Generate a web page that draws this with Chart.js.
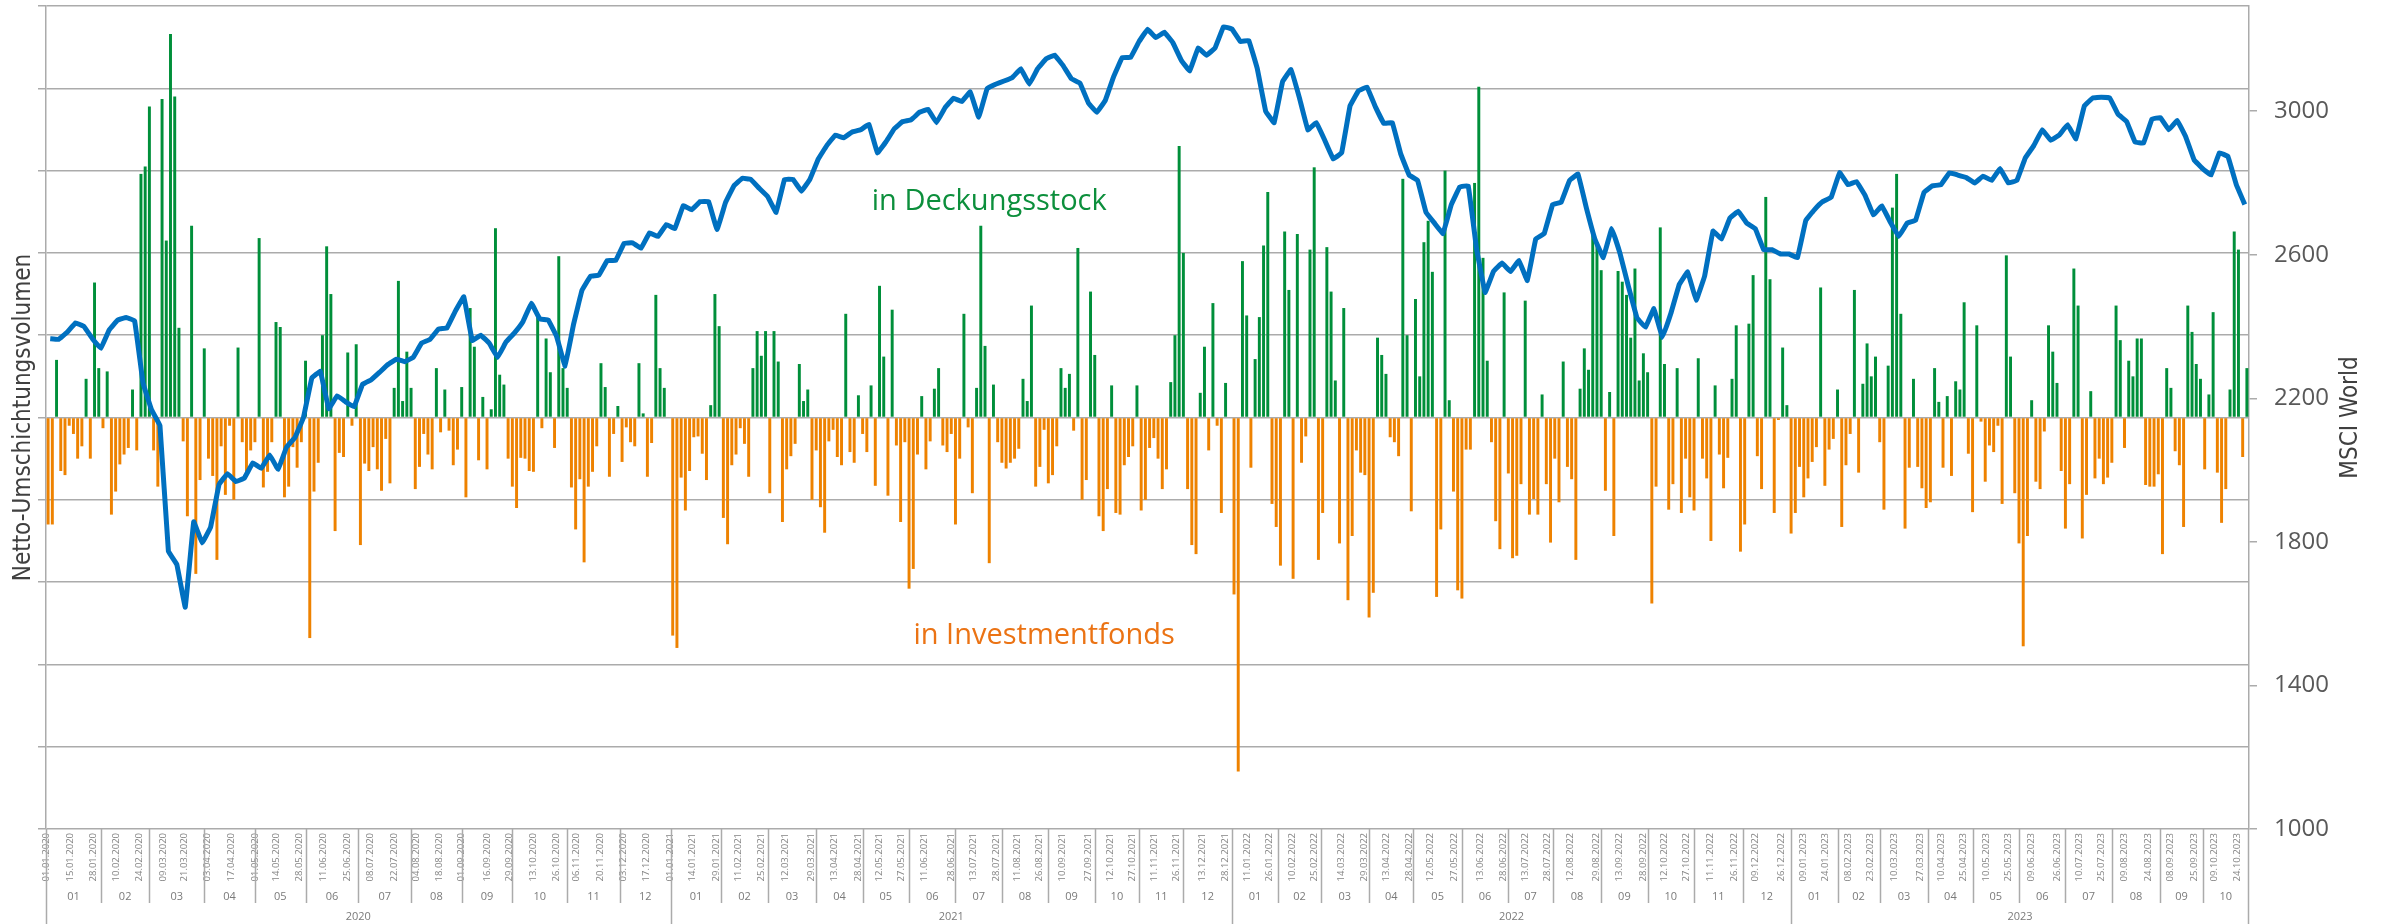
<!DOCTYPE html>
<html>
<head>
<meta charset="utf-8">
<title>Netto-Umschichtungsvolumen / MSCI World</title>
<script src="https://cdn.jsdelivr.net/npm/chart.js@4.4.1/dist/chart.umd.min.js"></script>
<style>
  html, body { margin: 0; padding: 0; background: #fff; }
  #wrap { width: 2384px; height: 924px; position: relative; }
</style>
</head>
<body>
<div id="wrap"><canvas id="myChart"></canvas></div>
<script>
// x axis: trading days per month, Jan 2020 .. Oct 2023
const years = ['2020', '2021', '2022', '2023'];
const monthLabels = ['01', '02', '03', '04', '05', '06', '07', '08', '09', '10', '11', '12'];
const monthDays = [
    26, 23, 26, 24, 24, 25, 25, 24, 24, 26, 25, 24,
    24, 22, 23, 22, 22, 22, 22, 22, 22, 21, 21, 23,
    22, 20, 23, 21, 23, 22, 21, 23, 22, 22, 23, 23,
    22, 20, 23, 21, 22, 22, 22, 23, 20, 22
];
const dateTicks = [
    '01.01.2020', '15.01.2020', '28.01.2020', '10.02.2020', '24.02.2020', '09.03.2020', '21.03.2020',
    '03.04.2020', '17.04.2020', '01.05.2020', '14.05.2020', '28.05.2020', '11.06.2020', '25.06.2020',
    '08.07.2020', '22.07.2020', '04.08.2020', '18.08.2020', '01.09.2020', '16.09.2020', '29.09.2020',
    '13.10.2020', '26.10.2020', '06.11.2020', '20.11.2020', '03.12.2020', '17.12.2020',
    '01.01.2021', '14.01.2021', '29.01.2021', '11.02.2021', '25.02.2021', '12.03.2021', '29.03.2021',
    '13.04.2021', '28.04.2021', '12.05.2021', '27.05.2021', '11.06.2021', '28.06.2021', '13.07.2021',
    '28.07.2021', '11.08.2021', '26.08.2021', '10.09.2021', '27.09.2021', '12.10.2021', '27.10.2021',
    '11.11.2021', '26.11.2021', '13.12.2021', '28.12.2021',
    '11.01.2022', '26.01.2022', '10.02.2022', '25.02.2022', '14.03.2022', '29.03.2022', '13.04.2022',
    '28.04.2022', '12.05.2022', '27.05.2022', '13.06.2022', '28.06.2022', '13.07.2022', '28.07.2022',
    '12.08.2022', '29.08.2022', '13.09.2022', '28.09.2022', '12.10.2022', '27.10.2022', '11.11.2022',
    '26.11.2022', '09.12.2022', '26.12.2022',
    '09.01.2023', '24.01.2023', '08.02.2023', '23.02.2023', '10.03.2023', '27.03.2023', '10.04.2023',
    '25.04.2023', '10.05.2023', '25.05.2023', '09.06.2023', '26.06.2023', '10.07.2023', '25.07.2023',
    '09.08.2023', '24.08.2023', '08.09.2023', '25.09.2023', '09.10.2023', '24.10.2023'
];
const msciTicks = [1000, 1400, 1800, 2200, 2600, 3000];

// net switching volume per two trading days (+ in Deckungsstock, - in Investmentfonds)
const netFlow = [
    -1.3, -1.3, 0.7, -0.65, -0.7, -0.1, -0.2, -0.5, -0.35, 0.47, -0.5, 1.64,
    0.6, -0.13, 0.56, -1.18, -0.9, -0.57, -0.45, -0.37, 0.34, -0.4, 2.96, 3.05,
    3.78, -0.4, -0.84, 3.87, 2.15, 4.66, 3.9, 1.09, -0.29, -1.2, 2.33, -1.9,
    -0.76, 0.84, -0.5, -0.71, -1.73, -0.35, -0.94, -0.1, -1.0, 0.85, -0.3, -0.7,
    -0.4, -0.3, 2.18, -0.85, -0.66, -0.3, 1.16, 1.1, -0.97, -0.84, -0.36, -0.61,
    -0.3, 0.69, -2.68, -0.9, -0.55, 1.0, 2.08, 1.5, -1.38, -0.43, -0.48, 0.79,
    -0.1, 0.89, -1.55, -0.56, -0.65, -0.36, -0.63, -0.89, -0.26, -0.8, 0.36, 1.66,
    0.2, 0.8, 0.36, -0.87, -0.6, -0.2, -0.45, -0.63, 0.6, -0.18, 0.34, -0.16,
    -0.58, -0.39, 0.37, -0.97, 1.33, 0.86, -0.52, 0.25, -0.63, 0.1, 2.3, 0.52,
    0.4, -0.5, -0.84, -1.1, -0.49, -0.5, -0.65, -0.66, 1.22, -0.13, 0.96, 0.55,
    -0.37, 1.96, 0.6, 0.36, -0.85, -1.36, -0.75, -1.76, -0.84, -0.66, -0.35, 0.66,
    0.37, -0.72, -0.2, 0.14, -0.54, -0.12, -0.3, -0.35, 0.66, 0.05, -0.72, -0.31,
    1.49, 0.6, 0.36, 0, -2.65, -2.8, -0.73, -1.13, -0.65, -0.24, -0.23, -0.44,
    -0.76, 0.15, 1.5, 1.11, -1.22, -1.54, -0.58, -0.45, -0.13, -0.32, -0.72, 0.6,
    1.05, 0.75, 1.05, -0.92, 1.05, 0.68, -1.27, -0.63, -0.47, -0.32, 0.65, 0.2,
    0.34, -1.0, -0.4, -1.09, -1.4, -0.29, -0.15, -0.48, -0.58, 1.26, -0.42, -0.55,
    0.27, -0.2, -0.42, 0.39, -0.83, 1.6, 0.74, -0.95, 1.31, -0.34, -1.27, -0.3,
    -2.08, -1.84, -0.45, 0.26, -0.63, -0.29, 0.35, 0.6, -0.34, -0.42, -0.2, -1.3,
    -0.5, 1.26, -0.12, -0.92, 0.36, 2.33, 0.87, -1.77, 0.4, -0.3, -0.55, -0.62,
    -0.55, -0.5, -0.38, 0.47, 0.2, 1.36, -0.84, -0.6, -0.15, -0.8, -0.7, -0.35,
    0.6, 0.36, 0.53, -0.16, 2.06, -1.0, -0.76, 1.53, 0.76, -1.2, -1.38, -0.87,
    0.39, -1.16, -1.18, -0.58, -0.48, -0.35, 0.39, -1.13, -1.0, -0.37, -0.25, -0.5,
    -0.87, -0.63, 0.43, 1.0, 3.3, 2.0, -0.87, -1.55, -1.66, 0.3, 0.86, -0.4,
    1.39, -0.1, -1.16, 0.42, 0, -2.15, -4.3, 1.9, 1.24, -0.61, 0.71, 1.22,
    2.09, 2.74, -1.05, -1.33, -1.8, 2.26, 1.55, -1.96, 2.23, -0.55, -0.23, 2.04,
    3.04, -1.73, -1.16, 2.07, 1.53, 0.45, -1.53, 1.33, -2.22, -1.44, -0.4, -0.67,
    -0.7, -2.43, -2.13, 0.97, 0.76, 0.53, -0.24, -0.3, -0.47, 2.9, 1.0, -1.14,
    1.44, 0.5, 2.13, 2.39, 1.77, -2.18, -1.36, 3.0, 0.21, -0.9, -2.1, -2.2,
    -0.39, -0.39, 2.85, 4.02, 1.94, 0.69, -0.3, -1.26, -1.6, 1.52, -0.68, -1.71,
    -1.68, -0.81, 1.42, -1.18, -0.99, -1.18, 0.28, -0.81, -1.52, -0.5, -1.03, 0.68,
    -0.6, -0.75, -1.73, 0.35, 0.84, 0.58, 2.28, 2.13, 1.79, -0.89, 0.31, -1.44,
    1.78, 1.65, 1.49, 0.97, 1.81, 0.45, 0.78, 0.55, -2.26, -0.84, 2.31, 0.65,
    -1.12, -0.81, 0.6, -1.16, -0.5, -0.97, -1.13, 0.72, -0.5, -0.74, -1.5, 0.39,
    -0.45, -0.86, -0.49, 0.47, 1.12, -1.63, -1.3, 1.14, 1.73, -0.47, -0.87, 2.68,
    1.68, -1.16, -0.03, 0.85, 0.15, -1.41, -1.16, -0.6, -0.97, -0.74, -0.54, -0.36,
    1.58, -0.83, -0.39, -0.26, 0.34, -1.33, -0.58, -0.2, 1.55, -0.67, 0.41, 0.9,
    0.5, 0.74, -0.3, -1.12, 0.63, 2.55, 2.96, 1.26, -1.35, -0.61, 0.47, -0.6,
    -0.86, -1.1, -1.03, 0.6, 0.19, -0.61, 0.26, -0.71, 0.44, 0.34, 1.4, -0.44,
    -1.15, 1.12, -0.05, -0.78, -0.34, -0.42, -0.1, -1.05, 1.97, 0.74, -0.92, -1.53,
    -2.78, -1.44, 0.21, -0.78, -0.87, -0.17, 1.12, 0.8, 0.42, -0.65, -1.35, -0.81,
    1.81, 1.36, -1.47, -0.94, 0.32, -0.74, -0.5, -0.81, -0.73, -0.55, 1.36, 0.94,
    -0.37, 0.69, 0.5, 0.96, 0.96, -0.82, -0.84, -0.84, -0.69, -1.66, 0.6, 0.36,
    -0.41, -0.58, -1.33, 1.36, 1.04, 0.65, 0.47, -0.63, 0.28, 1.28, -0.67, -1.28,
    -0.87, 0.34, 2.26, 2.04, -0.48, 0.6
];

// MSCI World, every fourth trading day
const msciWorld = [
    2366, 2364, 2384, 2410, 2400, 2366, 2339, 2391, 2418, 2425, 2416, 2242,
    2168, 2124, 1774, 1737, 1618, 1856, 1797, 1841, 1960, 1990, 1968, 1978,
    2020, 2005, 2042, 2002, 2064, 2091, 2146, 2257, 2275, 2171, 2207, 2190,
    2176, 2239, 2251, 2272, 2294, 2309, 2302, 2314, 2354, 2364, 2393, 2396,
    2443, 2483, 2361, 2376, 2354, 2314, 2357, 2382, 2413, 2465, 2421, 2418,
    2372, 2290, 2406, 2501, 2540, 2543, 2584, 2584, 2632, 2633, 2618, 2661,
    2651, 2684, 2673, 2737, 2725, 2748, 2748, 2670, 2745, 2792, 2813, 2810,
    2785, 2762, 2718, 2810, 2810, 2777, 2810, 2867, 2904, 2933, 2926, 2942,
    2948, 2963, 2884, 2914, 2951, 2971, 2976, 2997, 3005, 2968, 3009, 3036,
    3027, 3054, 2983, 3063, 3075, 3084, 3094, 3118, 3075, 3119, 3146, 3156,
    3127, 3090, 3078, 3023, 2997, 3030, 3097, 3149, 3150, 3194, 3228, 3205,
    3220, 3191, 3142, 3112, 3176, 3156, 3176, 3235, 3229, 3194, 3197, 3119,
    3000, 2968, 3082, 3116, 3037, 2948, 2968, 2919, 2867, 2884, 3015, 3057,
    3067, 3012, 2966, 2968, 2881, 2822, 2807, 2718, 2688, 2659, 2740, 2789,
    2792, 2614, 2495, 2554, 2577, 2553, 2584, 2528, 2644, 2659, 2740, 2746,
    2807, 2825, 2730, 2644, 2592, 2673, 2602, 2510, 2424, 2398, 2450, 2369,
    2436, 2517, 2552, 2473, 2540, 2666, 2644, 2702, 2721, 2688, 2673, 2614,
    2614, 2602, 2602, 2592, 2696, 2725, 2748, 2760, 2829, 2795, 2804, 2766,
    2711, 2736, 2691, 2651, 2688, 2696, 2774, 2792, 2795, 2828, 2822, 2815,
    2800, 2819, 2807, 2840, 2800, 2807, 2870, 2904, 2948, 2919, 2933, 2962,
    2923, 3015, 3037, 3039, 3037, 2991, 2971, 2914, 2911, 2978, 2982, 2948,
    2974, 2929, 2864, 2840, 2822, 2884, 2874, 2795, 2740
];

const GREEN = '#008f3a';
const ORANGE = '#ee8200';
const BLUE = '#0070c0';
const GRID = '#ababab';
const TEXT = '#404040';

// month start (in trading days)
const monthStart = [];
let total = 0;
monthDays.forEach(d => { monthStart.push(total); total += d; });

// place a dd.mm.yyyy label inside its month
function dayOf(label) {
    const [d, m, y] = label.split('.').map(Number);
    const idx = (y - 2020) * 12 + (m - 1);
    const dim = new Date(y, m, 0).getDate();
    return monthStart[idx] + (d - 1) / dim * monthDays[idx];
}

const axisDecor = {
    id: 'axisDecor',
    afterDraw(chart) {
        const { ctx, chartArea, scales: { x } } = chart;
        const bottom = chart.height;
        const base = chartArea.bottom;
        ctx.save();
        ctx.strokeStyle = GRID;
        ctx.lineWidth = 1.5;
        const vline = (px, y2) => {
            ctx.beginPath();
            ctx.moveTo(px, base);
            ctx.lineTo(px, y2);
            ctx.stroke();
        };
        ctx.fillStyle = '#7a7a7a';
        ctx.font = '11px "Open Sans", sans-serif';
        ctx.textAlign = 'center';
        ctx.textBaseline = 'middle';
        monthStart.forEach((s, i) => {
            const px = Math.round(x.getPixelForValue(s)) + 0.5;
            vline(px, i % 12 === 0 ? bottom : base + 74);
            ctx.fillText(monthLabels[i % 12], x.getPixelForValue(s + monthDays[i] / 2), base + 68);
        });
        vline(Math.round(x.getPixelForValue(total)) - 0.5, bottom);
        years.forEach((yr, k) => {
            const s = monthStart[k * 12];
            const e = k < years.length - 1 ? monthStart[(k + 1) * 12] : total;
            ctx.fillText(yr, x.getPixelForValue((s + e) / 2), base + 88);
        });
        ctx.restore();

        // axis titles
        const rotated = (text, px, py) => {
            ctx.save();
            ctx.translate(px, py);
            ctx.rotate(-Math.PI / 2);
            ctx.font = '24px "DejaVu Sans Condensed", "Liberation Sans Narrow", sans-serif';
            ctx.fillStyle = TEXT;
            ctx.textAlign = 'center';
            ctx.textBaseline = 'middle';
            ctx.fillText(text, 0, 0);
            ctx.restore();
        };
        const midY = (chartArea.top + chartArea.bottom) / 2;
        rotated('Netto-Umschichtungsvolumen', chartArea.left - 22, midY);
        rotated('MSCI World', chartArea.right + 102, midY);
    },
    afterDatasetsDraw(chart) {
        const { ctx, scales: { x, y } } = chart;
        ctx.save();
        ctx.font = '29px "Open Sans", sans-serif';
        ctx.textAlign = 'center';
        ctx.textBaseline = 'alphabetic';
        ctx.fillStyle = '#0c8f3c';
        ctx.fillText('in Deckungsstock', x.getPixelForValue(447), y.getPixelForValue(2.52));
        ctx.fillStyle = '#eb7314';
        ctx.fillText('in Investmentfonds', x.getPixelForValue(473), y.getPixelForValue(-2.75));
        ctx.restore();
    }
};

Chart.defaults.font.family = '"Open Sans", sans-serif';

const ctx = document.getElementById('myChart').getContext('2d');
const chart = new Chart(ctx, {
    type: 'bar',
    data: {
        datasets: [{
            type: 'line',
            label: 'MSCI World',
            data: msciWorld.map((v, j) => ({ x: 4 * j + 2, y: v })),
            borderColor: BLUE,
            borderWidth: 5,
            pointRadius: 0,
            tension: 0.05,
            borderJoinStyle: 'round',
            yAxisID: 'y1',
            order: 1
        }, {
            label: 'Netto-Umschichtung',
            data: netFlow.map((v, i) => ({ x: 2 * i + 1, y: v })),
            backgroundColor: netFlow.map(v => v >= 0 ? GREEN : ORANGE),
            barPercentage: 0.7,
            categoryPercentage: 1,
            yAxisID: 'y',
            order: 2
        }]
    },
    options: {
        responsive: true,
        maintainAspectRatio: false,
        animation: false,
        devicePixelRatio: 1,
        layout: { padding: { top: 6, left: 0, right: 0, bottom: 0 } },
        plugins: { legend: { display: false }, tooltip: { enabled: false } },
        scales: {
            x: {
                type: 'linear',
                min: 0,
                max: total,
                offset: false,
                grid: { display: false, drawTicks: false },
                border: { display: false },
                afterBuildTicks: s => { s.ticks = dateTicks.map(t => ({ value: dayOf(t) })); },
                ticks: {
                    autoSkip: false,
                    minRotation: 90,
                    maxRotation: 90,
                    padding: 4,
                    color: '#858585',
                    font: { size: 9.5 },
                    callback: (v, i) => dateTicks[i]
                },
                afterFit: s => { s.height = 95; s.paddingLeft = 0; s.paddingRight = 0; }
            },
            y: {
                position: 'left',
                min: -5,
                max: 5,
                ticks: { display: false, stepSize: 1 },
                grid: { color: GRID, lineWidth: 1.5, tickLength: 8 },
                border: { color: GRID, width: 1.5 },
                afterFit: s => { s.width = 46; s.paddingTop = 0; s.paddingBottom = 0; }
            },
            y1: {
                position: 'right',
                min: 1000,
                max: 3293,
                afterBuildTicks: s => { s.ticks = msciTicks.map(v => ({ value: v })); },
                ticks: {
                    padding: 17,
                    color: '#595959',
                    font: { size: 24 },
                    callback: (v, i) => String(msciTicks[i])
                },
                grid: { drawOnChartArea: false, color: GRID, lineWidth: 1.5, tickLength: 8 },
                border: { color: GRID, width: 1.5 },
                afterFit: s => { s.width = 135; s.paddingTop = 0; s.paddingBottom = 0; }
            }
        }
    },
    plugins: [axisDecor]
});
</script>
</body>
</html>
